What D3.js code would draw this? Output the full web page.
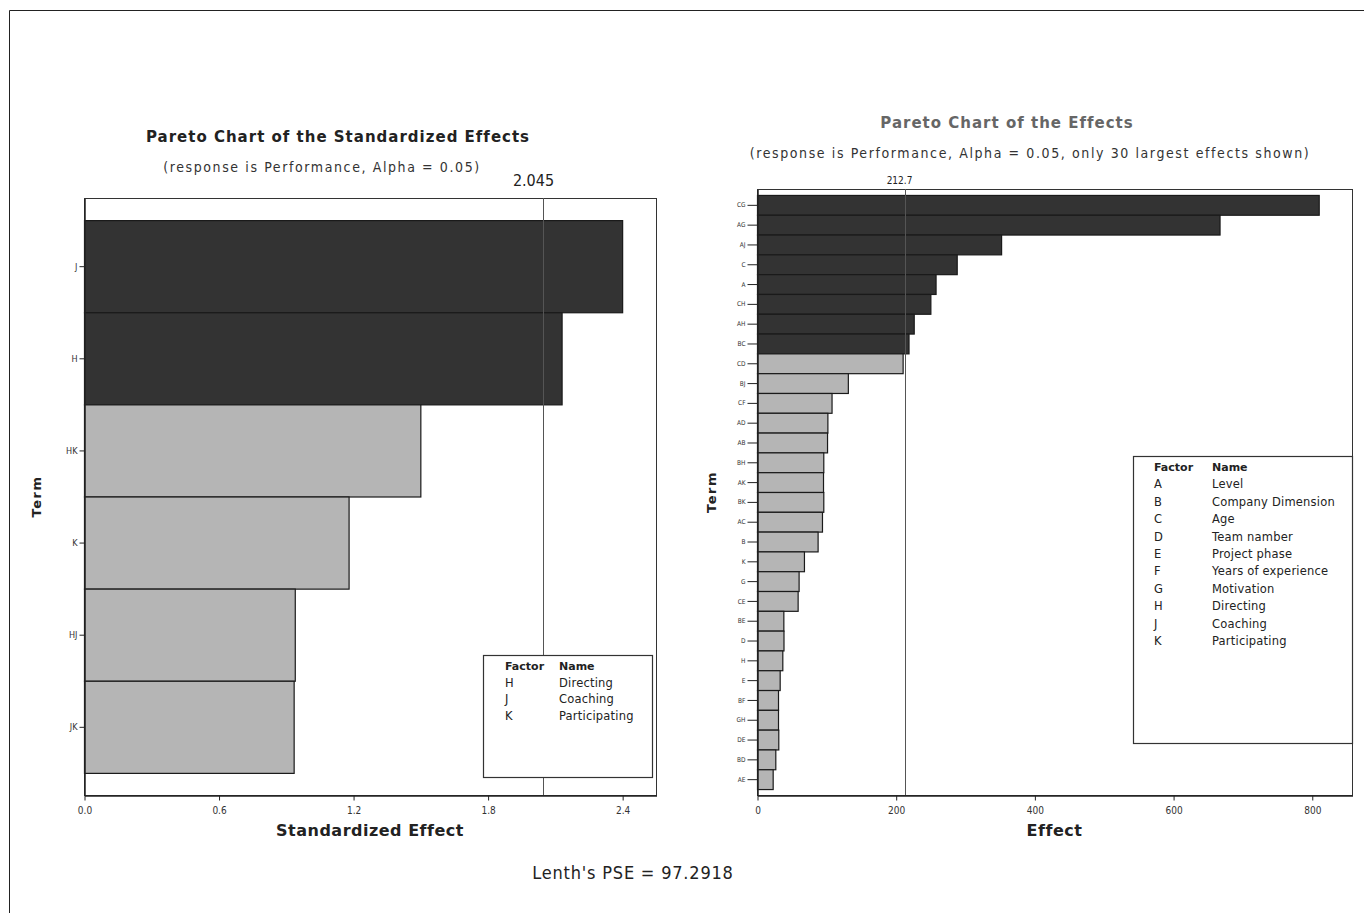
<!DOCTYPE html>
<html>
<head>
<meta charset="utf-8">
<script src="https://cdn.jsdelivr.net/npm/d3@7"></script>
<style>
  html, body { margin: 0; padding: 0; background: #fff; }
  svg { display: block; font-family: "DejaVu Sans", sans-serif; }
</style>
</head>
<body>
<svg id="chart" width="1364" height="913" fill="#222"></svg>
<script>
// ---- Standardized effects (left panel) ----
const stdTerms = ["J", "H", "HK", "K", "HJ", "JK"];
const stdValues = [2.40, 2.13, 1.50, 1.18, 0.94, 0.935];
const stdTicks = [0.0, 0.6, 1.2, 1.8, 2.4];
const stdCritical = 2.045;
const stdFactors = ["H", "J", "K"];
const stdNames = ["Directing", "Coaching", "Participating"];

// ---- Raw effects (right panel), 30 largest ----
const effTerms = ["CG", "AG", "AJ", "C", "A", "CH", "AH", "BC", "CD", "BJ",
                  "CF", "AD", "AB", "BH", "AK", "BK", "AC", "B", "K", "G",
                  "CE", "BE", "D", "H", "E", "BF", "GH", "DE", "BD", "AE"];
const effValues = [810, 667, 352, 288, 257.5, 250, 226, 218.5, 210, 131,
                   107.5, 101.5, 101, 95.6, 95.2, 95.6, 93.7, 87.4, 67.7, 60,
                   58.6, 38, 38.2, 36.5, 32.7, 30.3, 30.3, 30.7, 26.4, 22.6];
const effTicks = [0, 200, 400, 600, 800];
const effCritical = 212.7;
const effFactors = ["A", "B", "C", "D", "E", "F", "G", "H", "J", "K"];
const effNames = ["Level", "Company Dimension", "Age", "Team namber", "Project phase",
                  "Years of experience", "Motivation", "Directing", "Coaching", "Participating"];

const lenthPSE = "Lenth's PSE = 97.2918";

const svg = d3.select("#chart");
const DARK = "#333333", LIGHT = "#b5b5b5", EDGE = "#1a1a1a";
const COND = "DejaVu Sans Condensed, DejaVu Sans, sans-serif";

// outer frame of the figure
svg.append("path")
  .attr("d", "M9.5,913 V10.5 H1364")
  .attr("fill", "none").attr("stroke", "#222").attr("stroke-width", 1);

function pareto(cfg) {
  const g = svg.append("g");
  const x = d3.scaleLinear().domain([0, cfg.xMax]).range([cfg.left, cfg.right]);
  const y = d3.scaleBand().domain(cfg.terms).range([cfg.top, cfg.bottom])
    .paddingInner(0).paddingOuter(cfg.padOuter);

  // plot frame
  g.append("rect")
    .attr("x", cfg.left + 0.5).attr("y", cfg.top + 0.5)
    .attr("width", cfg.right - cfg.left).attr("height", cfg.bottom - cfg.top)
    .attr("fill", "#fff").attr("stroke", "#333").attr("stroke-width", 1);

  // bars
  g.selectAll("rect.bar").data(cfg.terms).join("rect")
    .attr("class", "bar")
    .attr("x", x(0) + 0.5)
    .attr("y", d => y(d) + 0.5)
    .attr("width", (d, i) => x(cfg.values[i]) - x(0))
    .attr("height", y.bandwidth())
    .attr("fill", (d, i) => cfg.values[i] > cfg.critical ? DARK : LIGHT)
    .attr("stroke", EDGE).attr("stroke-width", 1.2);

  // critical-value reference line
  const xc = Math.round(x(cfg.critical)) + 0.5;
  g.append("line")
    .attr("x1", xc).attr("x2", xc)
    .attr("y1", cfg.top).attr("y2", cfg.bottom)
    .attr("stroke", "#555").attr("stroke-width", 1);
  g.append("text")
    .attr("x", xc + cfg.critDx).attr("y", cfg.top - cfg.critGap)
    .attr("text-anchor", "middle").attr("font-size", cfg.critSize)
    .attr("font-family", COND)
    .text(cfg.critLabel);

  // axes
  const xAxis = d3.axisBottom(x).tickValues(cfg.ticks).tickFormat(cfg.fmt)
    .tickSize(5).tickSizeOuter(0);
  const gx = g.append("g").attr("transform", `translate(0.5,${cfg.bottom + 0.5})`).call(xAxis);
  gx.select(".domain").attr("stroke", "#222").attr("stroke-width", 1.5);
  gx.selectAll(".tick line").attr("stroke", "#222");
  gx.selectAll(".tick text").attr("font-size", cfg.xTickSize).attr("fill", "#333")
    .attr("font-family", COND).attr("dy", "1.0em");

  const yAxis = d3.axisLeft(y).tickSize(cfg.yTickLen).tickSizeOuter(0).tickPadding(2);
  const gy = g.append("g").attr("transform", `translate(${cfg.left + 0.5},0.5)`).call(yAxis);
  gy.select(".domain").attr("stroke", "#222").attr("stroke-width", 1.5);
  gy.selectAll(".tick line").attr("stroke", "#222");
  gy.selectAll(".tick text").attr("font-size", cfg.yTickSize).attr("fill", "#333")
    .attr("font-family", COND);

  // titles
  g.append("text").attr("x", cfg.titleX).attr("y", cfg.titleY)
    .attr("text-anchor", "middle").attr("font-size", 15).attr("font-weight", "bold")
    .attr("letter-spacing", 1).attr("fill", cfg.titleColor).text(cfg.title);
  g.append("text").attr("x", cfg.subX).attr("y", cfg.subY)
    .attr("text-anchor", "middle").attr("font-size", 14)
    .attr("font-family", COND).attr("letter-spacing", 1.6)
    .attr("fill", "#333")
    .text(cfg.subtitle);

  // axis titles
  g.append("text").attr("x", (cfg.left + cfg.right) / 2).attr("y", cfg.bottom + 41)
    .attr("text-anchor", "middle").attr("font-size", 16).attr("font-weight", "bold")
    .attr("letter-spacing", 0.5)
    .text(cfg.xLabel);
  g.append("text")
    .attr("transform", `translate(${cfg.termX},${(cfg.top + cfg.bottom) / 2}) rotate(-90)`)
    .attr("text-anchor", "middle").attr("font-size", 13).attr("font-weight", "bold")
    .attr("letter-spacing", 1.5).text("Term");

  // factor legend
  const L = cfg.legend;
  g.append("rect").attr("x", L.x + 0.5).attr("y", L.y + 0.5).attr("width", L.w).attr("height", L.h)
    .attr("fill", "#fff").attr("stroke", "#333").attr("stroke-width", 1.2);
  g.append("text").attr("x", L.x + L.c1).attr("y", L.y + 15).attr("font-size", 11)
    .attr("font-weight", "bold").text("Factor");
  g.append("text").attr("x", L.x + L.c2).attr("y", L.y + 15).attr("font-size", 11)
    .attr("font-weight", "bold").text("Name");
  const rows = g.append("g").selectAll("g").data(cfg.factors).join("g")
    .attr("transform", (d, i) => `translate(0,${L.y + 15 + (i + 1) * L.step})`);
  rows.append("text").attr("x", L.x + L.c1).attr("font-size", 11.5)
    .text(d => d);
  rows.append("text").attr("x", L.x + L.c2).attr("font-size", 11.5)
    .attr("letter-spacing", 0.2).text((d, i) => cfg.names[i]);
}

pareto({
  terms: stdTerms, values: stdValues, ticks: stdTicks, critical: stdCritical,
  critLabel: "2.045", critSize: 16, critGap: 12, critDx: -10,
  fmt: d3.format(".1f"), xMax: 2.551,
  left: 84, right: 656, top: 198, bottom: 795, padOuter: 0.24,
  xTickSize: 10, yTickSize: 9, yTickLen: 5,
  title: "Pareto Chart of the Standardized Effects", titleX: 338, titleY: 142, titleColor: "#222",
  subtitle: "(response is Performance, Alpha = 0.05)", subX: 322, subY: 172,
  xLabel: "Standardized Effect", termX: 41,
  factors: stdFactors, names: stdNames,
  legend: { x: 483, y: 655, w: 169, h: 122, c1: 22, c2: 76, step: 16.7 }
});

pareto({
  terms: effTerms, values: effValues, ticks: effTicks, critical: effCritical,
  critLabel: "212.7", critSize: 10, critGap: 5, critDx: -6,
  fmt: d3.format("d"), xMax: 858,
  left: 757, right: 1352, top: 189, bottom: 795, padOuter: 0.3,
  xTickSize: 10, yTickSize: 6.5, yTickLen: 10,
  title: "Pareto Chart of the Effects", titleX: 1007, titleY: 128, titleColor: "#666",
  subtitle: "(response is Performance, Alpha = 0.05, only 30 largest effects shown)", subX: 1030, subY: 158,
  xLabel: "Effect", termX: 716,
  factors: effFactors, names: effNames,
  legend: { x: 1133, y: 456, w: 219, h: 287, c1: 21, c2: 79, step: 17.4 }
});

svg.append("text").attr("x", 633).attr("y", 879)
  .attr("text-anchor", "middle").attr("font-size", 18)
  .attr("font-family", COND).attr("letter-spacing", 0.8)
  .text(lenthPSE);
</script>
</body>
</html>
